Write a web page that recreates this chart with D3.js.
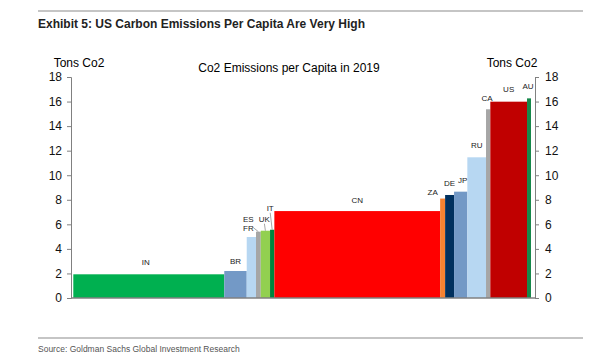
<!DOCTYPE html>
<html>
<head>
    <meta charset="utf-8">
    <title>Co2 Emissions per Capita</title>
    <script src="https://d3js.org/d3.v7.min.js"></script>
    <style>
        body { margin: 0; background: #fff; }
    </style>
</head>
<body>
    <svg width="610" height="362"></svg>
    <script>
        // countries, left to right
        const countries = ["IN", "BR", "ES", "FR", "UK", "IT", "CN", "ZA", "DE", "JP", "RU", "CA", "US", "AU"]
        // tons of Co2 per capita (bar height)
        const perCapita = [1.93, 2.2, 4.97, 5.4, 5.48, 5.56, 7.08, 8.1, 8.39, 8.66, 11.46, 15.37, 15.99, 16.26]
        // population in millions (bar width)
        const population = [1366, 203, 84, 43, 84, 39, 1500, 45, 81, 120, 169, 39, 332, 36]
        const colors = ["#00b050", "#7399c6", "#b7d7f2", "#a6a6a6", "#92d050", "#00843d", "#ff0000",
            "#f58231", "#00305e", "#7399c6", "#b7d7f2", "#a6a6a6", "#c00000", "#16884a"]
        const yTicks = [0, 2, 4, 6, 8, 10, 12, 14, 16, 18]

        const svg = d3.select("svg")
        const margin = { top: 77, bottom: 64, left: 71, right: 75 }
        const width = +svg.attr("width")
        const height = +svg.attr("height")
        const baseY = height - margin.bottom

        const data = countries.map((c, i) => ({ name: c, value: perCapita[i], pop: population[i], color: colors[i] }))
        let acc = 0
        data.forEach(d => { d.x0 = acc; acc += d.pop; d.x1 = acc })

        const xScale = d3.scaleLinear()
            .domain([0, acc])
            .range([73.3, 531])
        const yScale = d3.scaleLinear()
            .domain([0, 18])
            .range([baseY, margin.top])

        // header rule + title
        svg.append("line").attr("x1", 38).attr("x2", 583).attr("y1", 11).attr("y2", 11)
            .attr("stroke", "#8c8c8c").attr("stroke-width", 1.2)
        svg.append("text")
            .attr("x", 38).attr("y", 28)
            .style("font-family", "'Liberation Sans Narrow', 'Arial Narrow', Arial, sans-serif")
            .style("font-weight", "bold")
            .style("font-size", "12px")
            .attr("fill", "#222")
            .text("Exhibit 5: US Carbon Emissions Per Capita Are Very High")

        // bars
        svg.append("g").selectAll("rect")
            .data(data)
            .enter()
            .append("rect")
            .attr("x", d => xScale(d.x0))
            .attr("y", d => yScale(d.value))
            .attr("width", d => xScale(d.x1) - xScale(d.x0))
            .attr("height", d => baseY - yScale(d.value))
            .attr("fill", d => d.color)

        // axes
        const leftAxis = d3.axisLeft(yScale).tickValues(yTicks).tickSize(4).tickPadding(5)
        const rightAxis = d3.axisRight(yScale).tickValues(yTicks).tickSize(4).tickPadding(6)
        const gl = svg.append("g").attr("transform", "translate(71,0)").call(leftAxis)
        const gr = svg.append("g").attr("transform", "translate(535,0)").call(rightAxis)
        ;[gl, gr].forEach(g => {
            g.select(".domain").attr("stroke", "#808080")
            g.selectAll(".tick line").attr("stroke", "#808080")
            g.selectAll(".tick text")
                .style("font-family", "Arial, 'Liberation Sans', sans-serif")
                .style("font-size", "12px")
                .attr("fill", "#111")
        })
        gr.selectAll(".tick text").attr("x", 10)

        // baseline
        svg.append("line").attr("x1", 71).attr("x2", 535).attr("y1", baseY).attr("y2", baseY)
            .attr("stroke", "#808080").attr("stroke-width", 1.5)

        // axis titles and chart title
        const labelFont = "Arial, 'Liberation Sans', sans-serif"
        svg.append("text").attr("x", 79).attr("y", 67).attr("text-anchor", "middle")
            .style("font-family", labelFont).style("font-size", "12px").text("Tons Co2")
        svg.append("text").attr("x", 512).attr("y", 67).attr("text-anchor", "middle")
            .style("font-family", labelFont).style("font-size", "12px").text("Tons Co2")
        svg.append("text").attr("x", 289).attr("y", 72).attr("text-anchor", "middle")
            .style("font-family", labelFont).style("font-size", "12px").text("Co2 Emissions per Capita in 2019")

        // country labels: offsets from the bar top centre
        const labelPos = {
            IN: [-3, -9], BR: [0, -7], ES: [-3, -15], FR: [-10, -1], UK: [-1, -9],
            IT: [-2, -19], CN: [0, -8], ZA: [-10, -4], DE: [0, -9], JP: [2, -9],
            RU: [0, -9], CA: [-1, -8], US: [0, -10], AU: [-1, -9]
        }
        const lbl = svg.append("g")
        data.forEach(d => {
            const cx = (xScale(d.x0) + xScale(d.x1)) / 2
            const top = yScale(d.value)
            const off = labelPos[d.name]
            lbl.append("text")
                .attr("x", cx + off[0]).attr("y", top + off[1])
                .attr("text-anchor", "middle")
                .style("font-family", labelFont)
                .style("font-size", "8px")
                .attr("fill", "#222")
                .text(d.name)
        })
        // leader lines for the small European bars (start point relative to bar top centre)
        const leaders = { FR: [-5, -4], UK: [-1, -7], IT: [-2, -17] }
        data.filter(d => leaders[d.name]).forEach(d => {
            const cx = (xScale(d.x0) + xScale(d.x1)) / 2
            const top = yScale(d.value)
            const off = leaders[d.name]
            lbl.append("line")
                .attr("x1", cx + off[0]).attr("y1", top + off[1])
                .attr("x2", cx).attr("y2", top)
                .attr("stroke", "#808080").attr("stroke-width", 0.7)
        })

        // footer
        svg.append("line").attr("x1", 38).attr("x2", 583).attr("y1", 338).attr("y2", 338)
            .attr("stroke", "#8c8c8c").attr("stroke-width", 1.2)
        svg.append("text")
            .attr("x", 38).attr("y", 352)
            .style("font-family", "'Liberation Sans Narrow', 'Arial Narrow', sans-serif")
            .style("font-size", "8.5px")
            .attr("fill", "#555")
            .text("Source: Goldman Sachs Global Investment Research")
    </script>
</body>
</html>
